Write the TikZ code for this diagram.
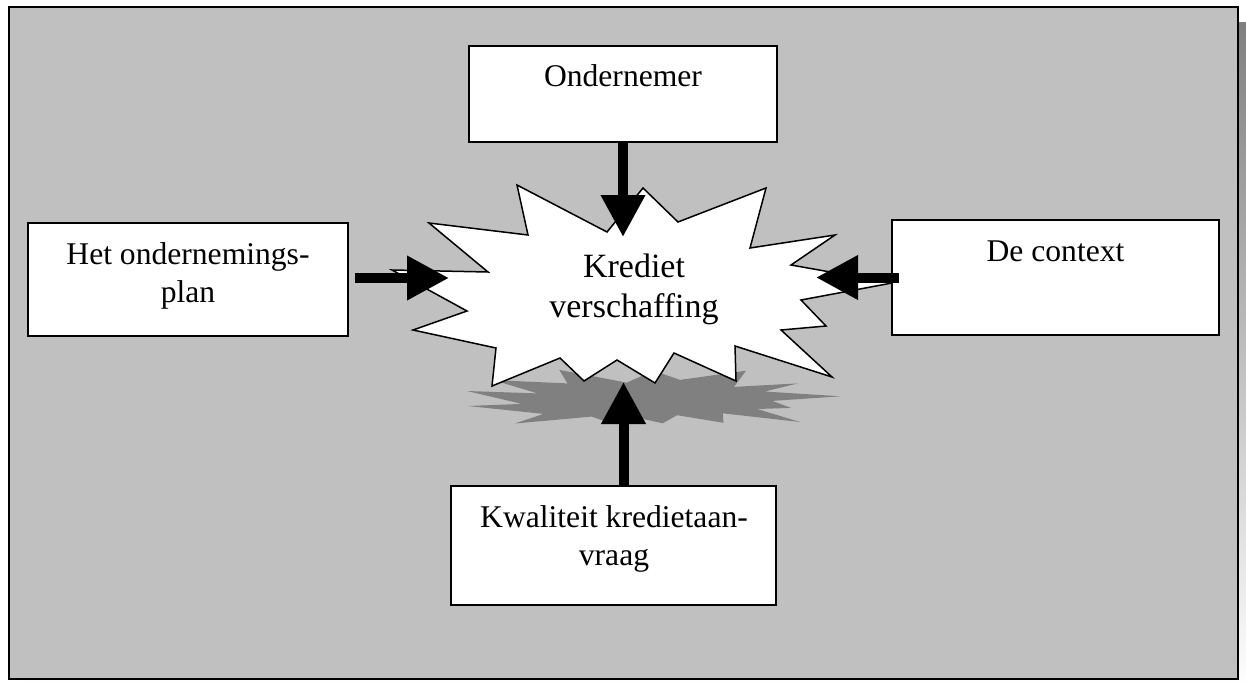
\documentclass[tikz,border=0pt]{standalone}
\usepackage{fontspec}
\setmainfont{Liberation Serif}
\usetikzlibrary{arrows.meta}
\definecolor{panel}{HTML}{C0C0C0}
\definecolor{shade}{HTML}{808080}
\tikzset{
  boxnode/.style={draw=black, line width=2pt, fill=white, inner sep=0pt},
  boxtext/.style={anchor=base, inner sep=0pt, font=\fontsize{31.6pt}{38pt}\selectfont},
  bursttext/.style={anchor=base, inner sep=0pt, font=\fontsize{34pt}{40pt}\selectfont},
  bigarrow/.style={line width=10pt, -{Triangle[length=42pt,width=42pt]}},
  burst/.style={draw=black, line width=1.5pt, fill=white, line join=miter},
  burstshadow/.style={fill=shade, draw=none}
}
\begin{document}
\begin{tikzpicture}[x=1pt,y=-1pt]
\useasboundingbox (0,0) rectangle (1246,690);
\fill[white] (0,0) rectangle (1246,690);
% panel with shadow
\fill[shade] (24,23) rectangle (1246,690);
\draw[fill=panel, line width=2.5pt] (9,7) rectangle (1238,679);

% shadow of the burst
\fill[burstshadow] (559.25,369.9) -- (626.75,382.6) -- (653.75,370.7) -- (680,379.9)
  -- (746,370.7) -- (734,386.9) -- (797.75,383.4) -- (764.75,391.5) -- (840.5,396.3)
  -- (772.25,400.9) -- (791,407.9) -- (757.25,409) -- (800,422) -- (722.75,413.3)
  -- (723.5,422.8) -- (677,415.2) -- (662.75,423.3) -- (634.25,417.1) -- (609.5,422.8)
  -- (591.5,416.6) -- (515,423.5) -- (543.5,413.9) -- (468,406) -- (521.75,403.9)
  -- (467,391) -- (537.5,393.4) -- (493.25,380.1) -- (567.5,383.4) -- cycle;

% the burst
\draw[burst] (517,185) -- (607,232) -- (643,188) -- (678,222) -- (766,188) -- (750,248)
  -- (835,235) -- (791,265) -- (892,283) -- (801,300) -- (826,326) -- (781,330)
  -- (832,377) -- (735,346) -- (736,381) -- (674,353) -- (655,383) -- (617,360)
  -- (584,381) -- (560,358) -- (492,386) -- (496,348) -- (413,330) -- (467,311)
  -- (392,270) -- (488,272) -- (429,223) -- (528,235) -- cycle;
\coordinate (burstc) at (634,285);
\node[bursttext] (kred) at (634,277) {Krediet};
\node[bursttext] (versch) at (634,317) {verschaffing};

% boxes
\node[boxnode, minimum width=308pt, minimum height=96pt] (ond) at (623,94) {};
\node[boxtext] (ondT) at (623,87) {Ondernemer};

\node[boxnode, minimum width=320pt, minimum height=113pt] (plan) at (188,279.5) {};
\node[boxtext] (planT1) at (188,264) {Het ondernemings-};
\node[boxtext] (planT2) at (188,302) {plan};

\node[boxnode, minimum width=327pt, minimum height=115pt] (ctx) at (1055.5,277.5) {};
\node[boxtext] (ctxT) at (1055.5,261) {De context};

\node[boxnode, minimum width=325pt, minimum height=119pt] (kwal) at (613.5,545.5) {};
\node[boxtext] (kwalT1) at (614,527) {Kwaliteit kredietaan-};
\node[boxtext] (kwalT2) at (614,565) {vraag};

% arrow ends
\coordinate (tipT) at (623,237);
\coordinate (startL) at (355,278);
\coordinate (tipL) at (449,278);
\coordinate (startR) at (899,277.5);
\coordinate (tipR) at (816,277.5);
\coordinate (startB) at (623.5,486);
\coordinate (tipB) at (623.5,382);

\draw[bigarrow] (ond.south) -- (tipT);
\draw[bigarrow] (startL) -- (tipL);
\draw[bigarrow] (startR) -- (tipR);
\draw[bigarrow] (startB) -- (tipB);
\end{tikzpicture}
\end{document}
